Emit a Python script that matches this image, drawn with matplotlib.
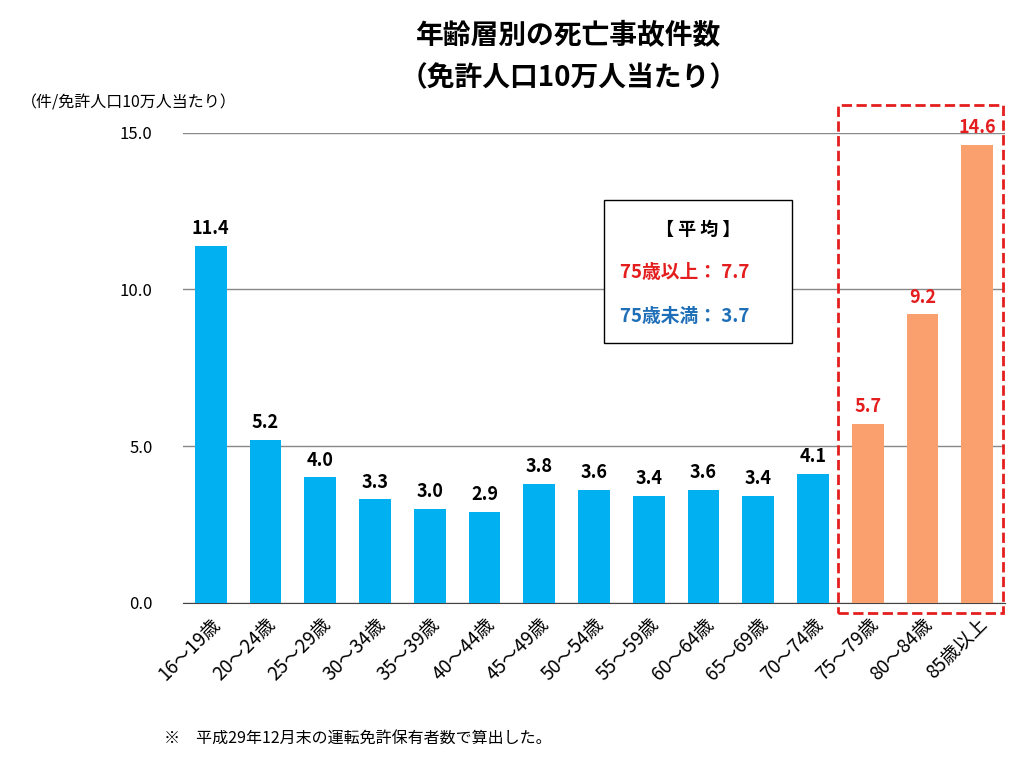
import matplotlib.pyplot as plt
from matplotlib.patches import Rectangle

plt.rcParams['font.family'] = ['Noto Sans CJK JP', 'DejaVu Sans']

labels = ['16～19歳', '20～24歳', '25～29歳', '30～34歳', '35～39歳', '40～44歳',
          '45～49歳', '50～54歳', '55～59歳', '60～64歳', '65～69歳', '70～74歳',
          '75～79歳', '80～84歳', '85歳以上']
values = [11.4, 5.2, 4.0, 3.3, 3.0, 2.9, 3.8, 3.6, 3.4, 3.6, 3.4, 4.1, 5.7, 9.2, 14.6]
n_young = 12

blue = '#00B0F0'
orange = '#F9A06E'
red = '#E41E1E'
dblue = '#1F6FB8'

fig = plt.figure(figsize=(10.24, 7.63), dpi=100)
ax = fig.add_axes([0.179, 0.210, 0.802, 0.616])

x = range(len(values))
colors = [blue] * n_young + [orange] * (len(values) - n_young)
ax.bar(x, values, width=0.58, color=colors, zorder=3)
for i, v in enumerate(values):
    ax.text(i, v + 0.25, f'{v:.1f}', ha='center', va='bottom', fontsize=13,
            fontweight='bold', color='black' if i < n_young else red)

ax.set_xlim(-0.5, len(values) - 0.5)
ax.set_ylim(0, 15)
ax.set_yticks([0, 5, 10, 15])
ax.set_yticklabels(['0.0', '5.0', '10.0', '15.0'], fontsize=12)
ax.yaxis.grid(True, color='#888888', linewidth=1, zorder=0)
ax.set_xticks(list(x))
ax.set_xticklabels(labels, rotation=45, ha='right', rotation_mode='anchor', fontsize=13.5)
ax.tick_params(length=0)
ax.tick_params(axis='x', pad=8)
ax.tick_params(axis='y', pad=22)
for s in ['left', 'right', 'top']:
    ax.spines[s].set_visible(False)
ax.spines['bottom'].set_color('#444444')

fig.text(0.555, 0.952, '年齢層別の死亡事故件数', ha='center', va='center',
         fontsize=20, fontweight='bold')
fig.text(0.555, 0.897, '（免許人口10万人当たり）', ha='center', va='center',
         fontsize=20, fontweight='bold')
fig.text(0.02, 0.865, '（件/免許人口10万人当たり）', ha='left', va='center', fontsize=11.5)
fig.text(0.16, 0.033, '※　平成29年12月末の運転免許保有者数で算出した。', ha='left',
         va='center', fontsize=11.5)

# dashed highlight box
fig.patches.append(Rectangle((838 / 1024, 1 - 613 / 763), 165 / 1024, 508 / 763,
                             transform=fig.transFigure, fill=False, edgecolor=red,
                             linestyle='--', linewidth=2))
# average box
fig.patches.append(Rectangle((604 / 1024, 1 - 343 / 763), 188 / 1024, 143 / 763,
                             transform=fig.transFigure, facecolor='white',
                             edgecolor='black', linewidth=1, zorder=5))
fig.text(698 / 1024, 1 - 229 / 763, '【 平 均 】', ha='center', va='center',
         fontsize=13, fontweight='bold', zorder=6)
fig.text(620 / 1024, 1 - 272 / 763, '75歳以上： 7.7', ha='left', va='center',
         fontsize=13.5, fontweight='bold', color=red, zorder=6)
fig.text(620 / 1024, 1 - 316 / 763, '75歳未満： 3.7', ha='left', va='center',
         fontsize=13.5, fontweight='bold', color=dblue, zorder=6)

fig.savefig('out.png', dpi=100)
